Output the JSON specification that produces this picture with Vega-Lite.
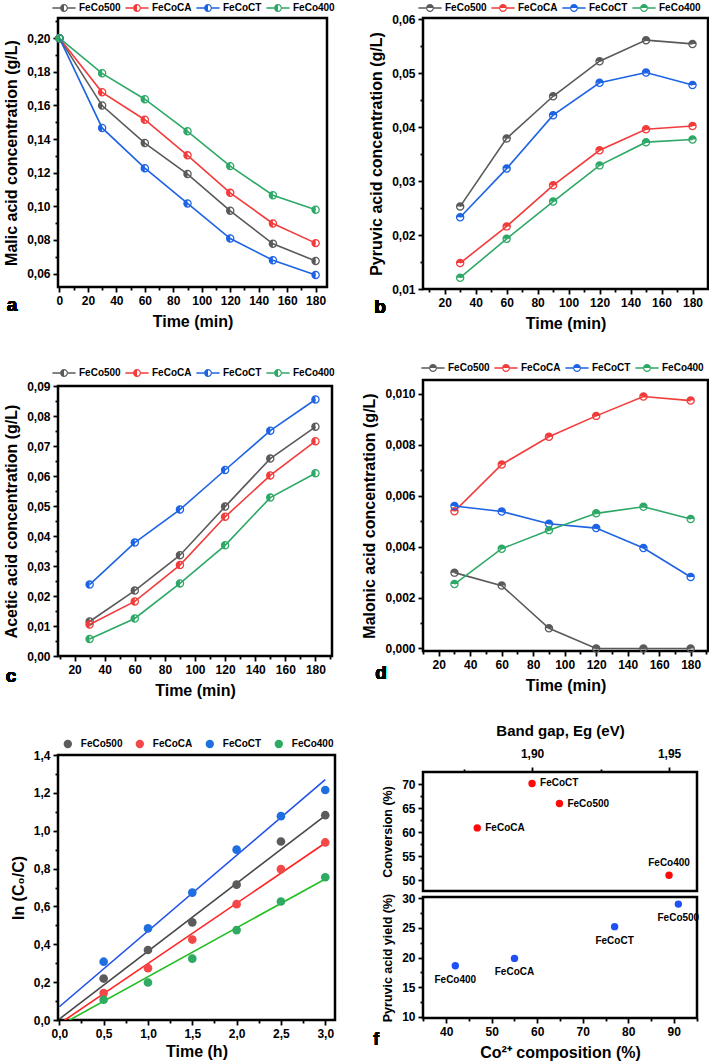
{
"$schema": "https://vega.github.io/schema/vega-lite/v6.json",
"padding": {"left": 2, "top": 1, "right": 0, "bottom": 0},
"autosize": {"type": "pad"},
"background": "white",
"config": {
  "font": "Liberation Sans",
  "view": {"stroke": "black", "strokeWidth": 2.5},
  "axis": {"domain": false, "grid": false, "tickColor": "black", "tickWidth": 1.8, "tickSize": 5, "labelFont": "Liberation Sans", "labelFontSize": 12, "labelFontWeight": "bold", "labelColor": "black", "labelPadding": 3, "titleFont": "Liberation Sans", "titleFontSize": 16, "titleFontWeight": "bold", "titleColor": "black", "titlePadding": 7, "labelFlush": false, "labelOverlap": false},
  "legend": {"labelFont": "Liberation Sans", "labelFontSize": 10, "labelFontWeight": "bold", "labelColor": "black"},
  "text": {"font": "Liberation Sans"}
},
"datasets": {
  "malic": [
    {"t":0,"s":"FeCo500","v":0.200},{"t":30,"s":"FeCo500","v":0.1599},{"t":60,"s":"FeCo500","v":0.1376},{"t":90,"s":"FeCo500","v":0.1192},{"t":120,"s":"FeCo500","v":0.0973},{"t":150,"s":"FeCo500","v":0.0777},{"t":180,"s":"FeCo500","v":0.0675},
    {"t":0,"s":"FeCoCA","v":0.200},{"t":30,"s":"FeCoCA","v":0.1678},{"t":60,"s":"FeCoCA","v":0.1515},{"t":90,"s":"FeCoCA","v":0.1303},{"t":120,"s":"FeCoCA","v":0.1080},{"t":150,"s":"FeCoCA","v":0.0898},{"t":180,"s":"FeCoCA","v":0.0781},
    {"t":0,"s":"FeCoCT","v":0.200},{"t":30,"s":"FeCoCT","v":0.1466},{"t":60,"s":"FeCoCT","v":0.1227},{"t":90,"s":"FeCoCT","v":0.1017},{"t":120,"s":"FeCoCT","v":0.0808},{"t":150,"s":"FeCoCT","v":0.0679},{"t":180,"s":"FeCoCT","v":0.0592},
    {"t":0,"s":"FeCo400","v":0.200},{"t":30,"s":"FeCo400","v":0.1791},{"t":60,"s":"FeCo400","v":0.1637},{"t":90,"s":"FeCo400","v":0.1446},{"t":120,"s":"FeCo400","v":0.1239},{"t":150,"s":"FeCo400","v":0.1066},{"t":180,"s":"FeCo400","v":0.0979}
  ],
  "pyruvic": [
    {"t":30,"s":"FeCo500","v":0.0253},{"t":60,"s":"FeCo500","v":0.0379},{"t":90,"s":"FeCo500","v":0.0457},{"t":120,"s":"FeCo500","v":0.0522},{"t":150,"s":"FeCo500","v":0.0561},{"t":180,"s":"FeCo500","v":0.0554},
    {"t":30,"s":"FeCoCA","v":0.0148},{"t":60,"s":"FeCoCA","v":0.0216},{"t":90,"s":"FeCoCA","v":0.0292},{"t":120,"s":"FeCoCA","v":0.0357},{"t":150,"s":"FeCoCA","v":0.0396},{"t":180,"s":"FeCoCA","v":0.0402},
    {"t":30,"s":"FeCoCT","v":0.0233},{"t":60,"s":"FeCoCT","v":0.0323},{"t":90,"s":"FeCoCT","v":0.0422},{"t":120,"s":"FeCoCT","v":0.0482},{"t":150,"s":"FeCoCT","v":0.0501},{"t":180,"s":"FeCoCT","v":0.0478},
    {"t":30,"s":"FeCo400","v":0.0121},{"t":60,"s":"FeCo400","v":0.0193},{"t":90,"s":"FeCo400","v":0.0262},{"t":120,"s":"FeCo400","v":0.0329},{"t":150,"s":"FeCo400","v":0.0372},{"t":180,"s":"FeCo400","v":0.0377}
  ],
  "acetic": [
    {"t":30,"s":"FeCo500","v":0.0115},{"t":60,"s":"FeCo500","v":0.0218},{"t":90,"s":"FeCo500","v":0.0336},{"t":120,"s":"FeCo500","v":0.0498},{"t":150,"s":"FeCo500","v":0.0658},{"t":180,"s":"FeCo500","v":0.0764},
    {"t":30,"s":"FeCoCA","v":0.0105},{"t":60,"s":"FeCoCA","v":0.0182},{"t":90,"s":"FeCoCA","v":0.0303},{"t":120,"s":"FeCoCA","v":0.0464},{"t":150,"s":"FeCoCA","v":0.0602},{"t":180,"s":"FeCoCA","v":0.0716},
    {"t":30,"s":"FeCoCT","v":0.0238},{"t":60,"s":"FeCoCT","v":0.0378},{"t":90,"s":"FeCoCT","v":0.0488},{"t":120,"s":"FeCoCT","v":0.0620},{"t":150,"s":"FeCoCT","v":0.0751},{"t":180,"s":"FeCoCT","v":0.0855},
    {"t":30,"s":"FeCo400","v":0.0057},{"t":60,"s":"FeCo400","v":0.0125},{"t":90,"s":"FeCo400","v":0.0242},{"t":120,"s":"FeCo400","v":0.0369},{"t":150,"s":"FeCo400","v":0.0528},{"t":180,"s":"FeCo400","v":0.0609}
  ],
  "malonic": [
    {"t":30,"s":"FeCo500","v":0.00298},{"t":60,"s":"FeCo500","v":0.00247},{"t":90,"s":"FeCo500","v":0.00079},{"t":120,"s":"FeCo500","v":0.0},{"t":150,"s":"FeCo500","v":0.0},{"t":180,"s":"FeCo500","v":0.0},
    {"t":30,"s":"FeCoCA","v":0.00539},{"t":60,"s":"FeCoCA","v":0.00723},{"t":90,"s":"FeCoCA","v":0.00832},{"t":120,"s":"FeCoCA","v":0.00914},{"t":150,"s":"FeCoCA","v":0.00990},{"t":180,"s":"FeCoCA","v":0.00974},
    {"t":30,"s":"FeCoCT","v":0.00560},{"t":60,"s":"FeCoCT","v":0.00538},{"t":90,"s":"FeCoCT","v":0.00490},{"t":120,"s":"FeCoCT","v":0.00473},{"t":150,"s":"FeCoCT","v":0.00395},{"t":180,"s":"FeCoCT","v":0.00281},
    {"t":30,"s":"FeCo400","v":0.00253},{"t":60,"s":"FeCo400","v":0.00392},{"t":90,"s":"FeCo400","v":0.00465},{"t":120,"s":"FeCo400","v":0.00531},{"t":150,"s":"FeCo400","v":0.00557},{"t":180,"s":"FeCo400","v":0.00509}
  ],
  "kin": [
    {"h":0.5,"s":"FeCo500","v":0.219},{"h":1.0,"s":"FeCo500","v":0.370},{"h":1.5,"s":"FeCo500","v":0.516},{"h":2.0,"s":"FeCo500","v":0.715},{"h":2.5,"s":"FeCo500","v":0.943},{"h":3.0,"s":"FeCo500","v":1.082},
    {"h":0.5,"s":"FeCoCA","v":0.142},{"h":1.0,"s":"FeCoCA","v":0.274},{"h":1.5,"s":"FeCoCA","v":0.425},{"h":2.0,"s":"FeCoCA","v":0.612},{"h":2.5,"s":"FeCoCA","v":0.797},{"h":3.0,"s":"FeCoCA","v":0.938},
    {"h":0.5,"s":"FeCoCT","v":0.308},{"h":1.0,"s":"FeCoCT","v":0.484},{"h":1.5,"s":"FeCoCT","v":0.673},{"h":2.0,"s":"FeCoCT","v":0.900},{"h":2.5,"s":"FeCoCT","v":1.077},{"h":3.0,"s":"FeCoCT","v":1.215},
    {"h":0.5,"s":"FeCo400","v":0.107},{"h":1.0,"s":"FeCo400","v":0.198},{"h":1.5,"s":"FeCo400","v":0.324},{"h":2.0,"s":"FeCo400","v":0.475},{"h":2.5,"s":"FeCo400","v":0.626},{"h":3.0,"s":"FeCo400","v":0.754}
  ],
  "fit": [
    {"h":0.0,"fit":"FeCo500 fit","v":0.005},{"h":3.0,"fit":"FeCo500 fit","v":1.08},
    {"h":0.0,"fit":"FeCoCA fit","v":-0.02},{"h":3.0,"fit":"FeCoCA fit","v":0.935},
    {"h":0.0,"fit":"FeCoCT fit","v":0.07},{"h":3.0,"fit":"FeCoCT fit","v":1.27},
    {"h":0.0,"fit":"FeCo400 fit","v":-0.03},{"h":3.0,"fit":"FeCo400 fit","v":0.745}
  ],
  "conv": [
    {"s":"FeCoCT","eg":1.900,"v":70.2},{"s":"FeCo500","eg":1.910,"v":66.0},{"s":"FeCoCA","eg":1.880,"v":60.9},{"s":"FeCo400","eg":1.950,"v":51.0}
  ],
  "yield": [
    {"s":"FeCo400","co":42,"v":18.6},{"s":"FeCoCA","co":55,"v":19.85},{"s":"FeCoCT","co":77,"v":25.2},{"s":"FeCo500","co":91,"v":29.0}
  ]
},
"hconcat": [
  {"vconcat": [
      {"width": 269, "height": 269,
       "data": {"name": "malic"},
       "layer": [
         {"mark": {"type": "line", "strokeWidth": 1.6},
          "encoding": {
            "x": {"field": "t", "type": "quantitative", "scale": {"domain": [-1, 188], "nice": false, "zero": false}, "axis": {"orient": "bottom", "values": [0,20,40,60,80,100,120,140,160,180], "title": "Time (min)"}},
            "y": {"field": "v", "type": "quantitative", "scale": {"domain": [0.052, 0.212], "nice": false, "zero": false}, "axis": {"orient": "left", "values": [0.06,0.08,0.10,0.12,0.14,0.16,0.18,0.20], "labelExpr": "replace(format(datum.value,'.2f'),'.',',')", "title": "Malic acid concentration (g/L)"}},
            "color": {"field": "s", "type": "nominal", "scale": {"domain": ["FeCo500","FeCoCA","FeCoCT","FeCo400"], "range": ["#5a5a5a","#f23b3b","#1d63e3","#2ea866"]},
              "legend": {"title": null, "orient": "none", "legendX": 1, "legendY": -15, "direction": "horizontal", "symbolType": "M-1,0A1,1,0,0,1,0,-1A1,1,0,0,1,1,0A1,1,0,0,1,0,1A1,1,0,0,1,-1,0ZM0,0.7A0.7,0.7,0,0,0,0.7,0A0.7,0.7,0,0,0,0,-0.7ZM-2.9,-0.17H-1V0.17H-2.9ZM1,-0.17H2.9V0.17H1Z", "symbolSize": 64, "symbolStrokeWidth": 0, "symbolOpacity": 1, "labelOffset": 10, "columnPadding": 4}}
          }},
         {"mark": {"type": "point", "filled": true, "opacity": 1, "size": 72, "shape": "M-1,0A1,1,0,0,1,0,-1A1,1,0,0,1,1,0A1,1,0,0,1,0,1A1,1,0,0,1,-1,0ZM0,0.7A0.7,0.7,0,0,0,0.7,0A0.7,0.7,0,0,0,0,-0.7Z"},
          "encoding": {
            "x": {"field": "t", "type": "quantitative", "axis": {"orient": "bottom", "values": [10,30,50,70,90,110,130,150,170], "labels": false, "title": null, "tickSize": 3}},
            "y": {"field": "v", "type": "quantitative", "axis": {"orient": "left", "values": [0.07,0.09,0.11,0.13,0.15,0.17,0.19,0.21], "labels": false, "title": null, "tickSize": 3}},
            "color": {"field": "s", "type": "nominal", "scale": {"domain": ["FeCo500","FeCoCA","FeCoCT","FeCo400"], "range": ["#5a5a5a","#f23b3b","#1d63e3","#2ea866"]},
              "legend": {"title": null, "orient": "none", "legendX": 1, "legendY": -15, "direction": "horizontal", "symbolType": "M-1,0A1,1,0,0,1,0,-1A1,1,0,0,1,1,0A1,1,0,0,1,0,1A1,1,0,0,1,-1,0ZM0,0.7A0.7,0.7,0,0,0,0.7,0A0.7,0.7,0,0,0,0,-0.7ZM-2.9,-0.17H-1V0.17H-2.9ZM1,-0.17H2.9V0.17H1Z", "symbolSize": 64, "symbolStrokeWidth": 0, "symbolOpacity": 1, "labelOffset": 10, "columnPadding": 4}}
          }},
         {"mark": {"type": "text", "fontSize": 19, "fontWeight": "bold", "align": "center", "baseline": "middle", "color": "black"},
          "encoding": {"x": {"datum": -33.3, "type": "quantitative", "axis": null}, "y": {"datum": 0.0413, "type": "quantitative", "axis": null}, "text": {"value": "a"}}}
       ],
       "resolve": {"axis": {"x": "independent", "y": "independent"}}
      },
      {"width": 274, "height": 270,
       "data": {"name": "acetic"},
       "layer": [
         {"mark": {"type": "line", "strokeWidth": 1.6},
          "encoding": {
            "x": {"field": "t", "type": "quantitative", "scale": {"domain": [9, 191], "nice": false, "zero": false}, "axis": {"orient": "bottom", "values": [20,40,60,80,100,120,140,160,180], "title": "Time (min)"}},
            "y": {"field": "v", "type": "quantitative", "scale": {"domain": [0, 0.09], "nice": false, "zero": false}, "axis": {"orient": "left", "values": [0,0.01,0.02,0.03,0.04,0.05,0.06,0.07,0.08,0.09], "labelExpr": "replace(format(datum.value,'.2f'),'.',',')", "title": "Acetic acid concentration (g/L)"}},
            "color": {"field": "s", "type": "nominal", "scale": {"domain": ["FeCo500","FeCoCA","FeCoCT","FeCo400"], "range": ["#5a5a5a","#f23b3b","#1d63e3","#2ea866"]},
              "legend": {"title": null, "orient": "none", "legendX": 1, "legendY": -18, "direction": "horizontal", "symbolType": "M-1,0A1,1,0,0,1,0,-1A1,1,0,0,1,1,0A1,1,0,0,1,0,1A1,1,0,0,1,-1,0ZM0,0.7A0.7,0.7,0,0,0,0.7,0A0.7,0.7,0,0,0,0,-0.7ZM-2.9,-0.17H-1V0.17H-2.9ZM1,-0.17H2.9V0.17H1Z", "symbolSize": 64, "symbolStrokeWidth": 0, "symbolOpacity": 1, "labelOffset": 10, "columnPadding": 4}}
          }},
         {"mark": {"type": "point", "filled": true, "opacity": 1, "size": 72, "shape": "M-1,0A1,1,0,0,1,0,-1A1,1,0,0,1,1,0A1,1,0,0,1,0,1A1,1,0,0,1,-1,0ZM0,0.7A0.7,0.7,0,0,0,0.7,0A0.7,0.7,0,0,0,0,-0.7Z"},
          "encoding": {
            "x": {"field": "t", "type": "quantitative", "axis": {"orient": "bottom", "values": [10,30,50,70,90,110,130,150,170,190], "labels": false, "title": null, "tickSize": 3}},
            "y": {"field": "v", "type": "quantitative", "axis": {"orient": "left", "values": [0.005,0.015,0.025,0.035,0.045,0.055,0.065,0.075,0.085], "labels": false, "title": null, "tickSize": 3}},
            "color": {"field": "s", "type": "nominal", "scale": {"domain": ["FeCo500","FeCoCA","FeCoCT","FeCo400"], "range": ["#5a5a5a","#f23b3b","#1d63e3","#2ea866"]},
              "legend": {"title": null, "orient": "none", "legendX": 1, "legendY": -18, "direction": "horizontal", "symbolType": "M-1,0A1,1,0,0,1,0,-1A1,1,0,0,1,1,0A1,1,0,0,1,0,1A1,1,0,0,1,-1,0ZM0,0.7A0.7,0.7,0,0,0,0.7,0A0.7,0.7,0,0,0,0,-0.7ZM-2.9,-0.17H-1V0.17H-2.9ZM1,-0.17H2.9V0.17H1Z", "symbolSize": 64, "symbolStrokeWidth": 0, "symbolOpacity": 1, "labelOffset": 10, "columnPadding": 4}}
          }},
         {"mark": {"type": "text", "fontSize": 19, "fontWeight": "bold", "align": "center", "baseline": "middle", "color": "black"},
          "encoding": {"x": {"datum": -22.2, "type": "quantitative", "axis": null}, "y": {"datum": -0.0067, "type": "quantitative", "axis": null}, "text": {"value": "c"}}}
       ],
       "resolve": {"axis": {"x": "independent", "y": "independent"}}
      },
    {"width": 277, "height": 265,
     "layer": [
       {"data": {"name": "fit"},
        "mark": {"type": "line", "strokeWidth": 1.6, "clip": true},
        "encoding": {
          "x": {"field": "h", "type": "quantitative", "scale": {"domain": [-0.015, 3.11], "nice": false, "zero": false}, "axis": {"orient": "bottom", "values": [0,0.5,1,1.5,2,2.5,3], "labelExpr": "replace(format(datum.value,'.1f'),'.',',')", "title": "Time (h)", "titlePadding": 4}},
          "y": {"field": "v", "type": "quantitative", "scale": {"domain": [0, 1.4], "nice": false, "zero": false}, "axis": {"orient": "left", "values": [0,0.2,0.4,0.6,0.8,1.0,1.2,1.4], "labelExpr": "replace(format(datum.value,'.1f'),'.',',')", "title": "ln (C₀/C)"}},
          "stroke": {"field": "fit", "type": "nominal", "scale": {"domain": ["FeCo500 fit","FeCoCA fit","FeCoCT fit","FeCo400 fit"], "range": ["#474747","#ff2424","#1f4fe8","#22bf22"]}, "legend": null}
        }},
       {"data": {"name": "kin"},
        "mark": {"type": "circle", "opacity": 1, "size": 75},
        "encoding": {
          "x": {"field": "h", "type": "quantitative", "axis": {"orient": "bottom", "values": [0.25,0.75,1.25,1.75,2.25,2.75], "labels": false, "title": null, "tickSize": 3}},
          "y": {"field": "v", "type": "quantitative", "axis": {"orient": "left", "values": [0.1,0.3,0.5,0.7,0.9,1.1,1.3], "labels": false, "title": null, "tickSize": 3}},
          "color": {"field": "s", "type": "nominal", "scale": {"domain": ["FeCo500","FeCoCA","FeCoCT","FeCo400"], "range": ["#5b5b5b","#f44848","#1f6fe0","#2eaa62"]},
            "legend": {"title": null, "orient": "none", "legendX": 4.8, "legendY": -16, "direction": "horizontal", "symbolType": "circle", "symbolSize": 70, "symbolStrokeWidth": 0, "symbolOpacity": 1, "labelOffset": 8, "columnPadding": 12}}
        }},
       {"mark": {"type": "text", "fontSize": 19, "fontWeight": "bold", "align": "center", "baseline": "middle", "color": "black"},
        "encoding": {"x": {"datum": -0.399, "type": "quantitative", "axis": null}, "y": {"datum": -0.0634, "type": "quantitative", "axis": null}, "text": {"value": "e"}}}
     ],
     "resolve": {"axis": {"x": "independent", "y": "independent"}}
    }
  ], "spacing": 99, "bounds": "flush", "resolve": {"scale": {"color": "independent", "stroke": "independent"}, "legend": {"color": "independent"}}},
  {"vconcat": [
    {"vconcat": [
      {"width": 285, "height": 271,
       "data": {"name": "pyruvic"},
       "layer": [
         {"mark": {"type": "line", "strokeWidth": 1.6},
          "encoding": {
            "x": {"field": "t", "type": "quantitative", "scale": {"domain": [6, 190], "nice": false, "zero": false}, "axis": {"orient": "bottom", "values": [20,40,60,80,100,120,140,160,180], "title": "Time (min)"}},
            "y": {"field": "v", "type": "quantitative", "scale": {"domain": [0.01, 0.0602], "nice": false, "zero": false}, "axis": {"orient": "left", "values": [0.01,0.02,0.03,0.04,0.05,0.06], "labelExpr": "replace(format(datum.value,'.2f'),'.',',')", "title": "Pyruvic acid concentration (g/L)"}},
            "color": {"field": "s", "type": "nominal", "scale": {"domain": ["FeCo500","FeCoCA","FeCoCT","FeCo400"], "range": ["#5a5a5a","#f23b3b","#1d63e3","#2ea866"]},
              "legend": {"title": null, "orient": "none", "legendX": 2, "legendY": -15, "direction": "horizontal", "symbolType": "M-1,0A1,1,0,0,1,0,-1A1,1,0,0,1,1,0A1,1,0,0,1,0,1A1,1,0,0,1,-1,0ZM-0.7,0A0.7,0.7,0,0,0,0,0.7A0.7,0.7,0,0,0,0.7,0ZM-2.9,-0.17H-1V0.17H-2.9ZM1,-0.17H2.9V0.17H1Z", "symbolSize": 64, "symbolStrokeWidth": 0, "symbolOpacity": 1, "labelOffset": 10, "columnPadding": 4}}
          }},
         {"mark": {"type": "point", "filled": true, "opacity": 1, "size": 72, "shape": "M-1,0A1,1,0,0,1,0,-1A1,1,0,0,1,1,0A1,1,0,0,1,0,1A1,1,0,0,1,-1,0ZM-0.7,0A0.7,0.7,0,0,0,0,0.7A0.7,0.7,0,0,0,0.7,0Z"},
          "encoding": {
            "x": {"field": "t", "type": "quantitative", "axis": {"orient": "bottom", "values": [10,30,50,70,90,110,130,150,170], "labels": false, "title": null, "tickSize": 3}},
            "y": {"field": "v", "type": "quantitative", "axis": {"orient": "left", "values": [0.015,0.025,0.035,0.045,0.055], "labels": false, "title": null, "tickSize": 3}},
            "color": {"field": "s", "type": "nominal", "scale": {"domain": ["FeCo500","FeCoCA","FeCoCT","FeCo400"], "range": ["#5a5a5a","#f23b3b","#1d63e3","#2ea866"]},
              "legend": {"title": null, "orient": "none", "legendX": 2, "legendY": -15, "direction": "horizontal", "symbolType": "M-1,0A1,1,0,0,1,0,-1A1,1,0,0,1,1,0A1,1,0,0,1,0,1A1,1,0,0,1,-1,0ZM-0.7,0A0.7,0.7,0,0,0,0,0.7A0.7,0.7,0,0,0,0.7,0ZM-2.9,-0.17H-1V0.17H-2.9ZM1,-0.17H2.9V0.17H1Z", "symbolSize": 64, "symbolStrokeWidth": 0, "symbolOpacity": 1, "labelOffset": 10, "columnPadding": 4}}
          }},
         {"mark": {"type": "text", "fontSize": 19, "fontWeight": "bold", "align": "center", "baseline": "middle", "color": "black"},
          "encoding": {"x": {"datum": -21.8, "type": "quantitative", "axis": null}, "y": {"datum": 0.00667, "type": "quantitative", "axis": null}, "text": {"value": "b"}}}
       ],
       "resolve": {"axis": {"x": "independent", "y": "independent"}}
      },
      {"width": 285, "height": 271,
       "data": {"name": "malonic"},
       "layer": [
         {"mark": {"type": "line", "strokeWidth": 1.6},
          "encoding": {
            "x": {"field": "t", "type": "quantitative", "scale": {"domain": [10, 191], "nice": false, "zero": false}, "axis": {"orient": "bottom", "values": [20,40,60,80,100,120,140,160,180], "title": "Time (min)"}},
            "y": {"field": "v", "type": "quantitative", "scale": {"domain": [-0.0001, 0.01055], "nice": false, "zero": false}, "axis": {"orient": "left", "values": [0,0.002,0.004,0.006,0.008,0.010], "labelExpr": "replace(format(datum.value,'.3f'),'.',',')", "title": "Malonic acid concentration (g/L)"}},
            "color": {"field": "s", "type": "nominal", "scale": {"domain": ["FeCo500","FeCoCA","FeCoCT","FeCo400"], "range": ["#5a5a5a","#f23b3b","#1d63e3","#2ea866"]},
              "legend": {"title": null, "orient": "none", "legendX": 5, "legendY": -17, "direction": "horizontal", "symbolType": "M-1,0A1,1,0,0,1,0,-1A1,1,0,0,1,1,0A1,1,0,0,1,0,1A1,1,0,0,1,-1,0ZM-0.7,0A0.7,0.7,0,0,0,0,0.7A0.7,0.7,0,0,0,0.7,0ZM-2.9,-0.17H-1V0.17H-2.9ZM1,-0.17H2.9V0.17H1Z", "symbolSize": 64, "symbolStrokeWidth": 0, "symbolOpacity": 1, "labelOffset": 10, "columnPadding": 4}}
          }},
         {"mark": {"type": "point", "filled": true, "opacity": 1, "size": 72, "shape": "M-1,0A1,1,0,0,1,0,-1A1,1,0,0,1,1,0A1,1,0,0,1,0,1A1,1,0,0,1,-1,0ZM-0.7,0A0.7,0.7,0,0,0,0,0.7A0.7,0.7,0,0,0,0.7,0Z"},
          "encoding": {
            "x": {"field": "t", "type": "quantitative", "axis": {"orient": "bottom", "values": [10,30,50,70,90,110,130,150,170,190], "labels": false, "title": null, "tickSize": 3}},
            "y": {"field": "v", "type": "quantitative", "axis": {"orient": "left", "values": [0.001,0.003,0.005,0.007,0.009], "labels": false, "title": null, "tickSize": 3}},
            "color": {"field": "s", "type": "nominal", "scale": {"domain": ["FeCo500","FeCoCA","FeCoCT","FeCo400"], "range": ["#5a5a5a","#f23b3b","#1d63e3","#2ea866"]},
              "legend": {"title": null, "orient": "none", "legendX": 5, "legendY": -17, "direction": "horizontal", "symbolType": "M-1,0A1,1,0,0,1,0,-1A1,1,0,0,1,1,0A1,1,0,0,1,0,1A1,1,0,0,1,-1,0ZM-0.7,0A0.7,0.7,0,0,0,0,0.7A0.7,0.7,0,0,0,0.7,0ZM-2.9,-0.17H-1V0.17H-2.9ZM1,-0.17H2.9V0.17H1Z", "symbolSize": 64, "symbolStrokeWidth": 0, "symbolOpacity": 1, "labelOffset": 10, "columnPadding": 4}}
          }},
         {"mark": {"type": "text", "fontSize": 19, "fontWeight": "bold", "align": "center", "baseline": "middle", "color": "black"},
          "encoding": {"x": {"datum": -16.7, "type": "quantitative", "axis": null}, "y": {"datum": -0.000965, "type": "quantitative", "axis": null}, "text": {"value": "d"}}}
       ],
       "resolve": {"axis": {"x": "independent", "y": "independent"}}
      }
    ], "spacing": 91, "bounds": "flush", "resolve": {"scale": {"color": "independent", "stroke": "independent"}, "legend": {"color": "independent"}}},
    {"vconcat": [
      {"width": 274, "height": 119,
       "data": {"name": "conv"},
       "layer": [
         {"mark": {"type": "circle", "opacity": 1, "size": 55, "color": "#ff0a0a"},
          "encoding": {
            "x": {"field": "eg", "type": "quantitative", "scale": {"domain": [1.8602, 1.9602], "nice": false, "zero": false}, "axis": {"orient": "top", "values": [1.90, 1.95], "labelExpr": "replace(format(datum.value,'.2f'),'.',',')", "title": "Band gap, Eg (eV)", "titleFontSize": 15, "labelPadding": 7, "titlePadding": 9}},
            "y": {"field": "v", "type": "quantitative", "scale": {"domain": [47.7, 72.6], "nice": false, "zero": false}, "axis": {"orient": "left", "values": [50,55,60,65,70], "title": "Conversion (%)", "titleFontSize": 12.5}}
          }},
         {"transform": [{"filter": "datum.s != 'FeCo400'"}],
          "mark": {"type": "text", "align": "left", "baseline": "middle", "dx": 8, "fontSize": 10, "fontWeight": "bold", "color": "black"},
          "encoding": {
            "x": {"field": "eg", "type": "quantitative", "axis": {"orient": "top", "values": [1.875, 1.925], "labels": false, "title": null, "tickSize": 3}},
            "y": {"field": "v", "type": "quantitative", "axis": {"orient": "left", "values": [52.5, 57.5, 62.5, 67.5], "labels": false, "title": null, "tickSize": 3}},
            "text": {"field": "s"}
          }},
         {"transform": [{"filter": "datum.s == 'FeCo400'"}],
          "mark": {"type": "text", "align": "center", "baseline": "middle", "dy": -12, "fontSize": 10, "fontWeight": "bold", "color": "black"},
          "encoding": {
            "x": {"field": "eg", "type": "quantitative", "axis": null},
            "y": {"field": "v", "type": "quantitative", "axis": null},
            "text": {"field": "s"}
          }}
       ],
       "resolve": {"axis": {"x": "independent", "y": "independent"}}
      },
      {"width": 274, "height": 121,
       "data": {"name": "yield"},
       "layer": [
         {"mark": {"type": "circle", "opacity": 1, "size": 55, "color": "#2050f5"},
          "encoding": {
            "x": {"field": "co", "type": "quantitative", "scale": {"domain": [34.9, 95.1], "nice": false, "zero": false}, "axis": {"orient": "bottom", "values": [40,50,60,70,80,90], "title": "Co²⁺ composition (%)"}},
            "y": {"field": "v", "type": "quantitative", "scale": {"domain": [9.8, 30.2], "nice": false, "zero": false}, "axis": {"orient": "left", "values": [10,15,20,25,30], "title": "Pyruvic acid yield (%)", "titleFontSize": 12.5}}
          }},
         {"mark": {"type": "text", "align": "center", "baseline": "middle", "dy": 14, "fontSize": 10, "fontWeight": "bold", "color": "black"},
          "encoding": {
            "x": {"field": "co", "type": "quantitative", "axis": {"orient": "bottom", "values": [35,45,55,65,75,85,95], "labels": false, "title": null, "tickSize": 3}},
            "y": {"field": "v", "type": "quantitative", "axis": {"orient": "left", "values": [12.5,17.5,22.5,27.5], "labels": false, "title": null, "tickSize": 3}},
            "text": {"field": "s"}
          }},
         {"mark": {"type": "text", "fontSize": 19, "fontWeight": "bold", "align": "center", "baseline": "middle", "color": "black"},
          "encoding": {"x": {"datum": 24.6, "type": "quantitative", "axis": null}, "y": {"datum": 6.26, "type": "quantitative", "axis": null}, "text": {"value": "f"}}}
       ],
       "resolve": {"axis": {"x": "independent", "y": "independent"}}
      }
    ], "spacing": 6, "bounds": "flush", "resolve": {"scale": {"color": "independent", "stroke": "independent"}, "legend": {"color": "independent"}}}
  ], "spacing": 26, "resolve": {"scale": {"color": "independent", "stroke": "independent"}, "legend": {"color": "independent"}}}
],
"spacing": 23,
"resolve": {"scale": {"color": "independent", "stroke": "independent"}, "legend": {"color": "independent"}}
}
